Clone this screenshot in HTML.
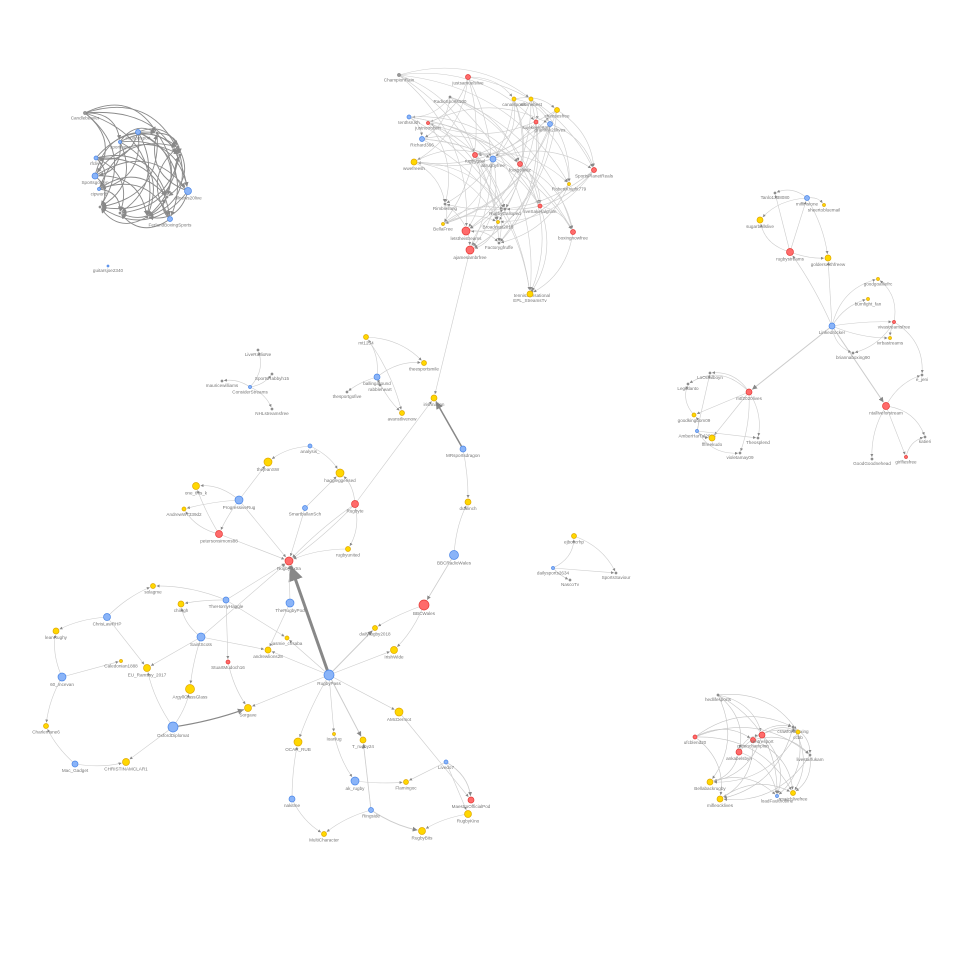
<!DOCTYPE html>
<html><head><meta charset="utf-8"><style>
html,body{margin:0;padding:0;background:#fff}
svg{display:block}
text{font-family:"Liberation Sans",sans-serif;font-size:4.6px;fill:#777}
</style></head><body>
<svg id="g" width="966" height="966" viewBox="0 0 966 966" xmlns="http://www.w3.org/2000/svg">
<defs><marker id="ar" viewBox="0 0 10 10" refX="10" refY="5" markerWidth="5" markerHeight="5" orient="auto"><path d="M0,0L10,5L0,10z" fill="#888"/></marker></defs>
<g id="edges"></g>
<g id="nodes"></g>
</svg>
<script>
// node: [label, x, y, radius, colour(b/y/r/g)]
const nodes = [
["analysis_",310,446,2,"b"],["thejeanSW",268,462,4,"y"],["haggleggerised",340,473,4,"y"],["one_this_k",196,486,3.5,"y"],
["ProgressiveRug",239,500,4,"b"],["AndrewW7339d2",184,509,2,"y"],["SmartballanSch",305,508,2.5,"b"],["Rugbyte",355,504,3.5,"r"],
["petersonsimons88",219,534,3.5,"r"],["rugbyunited",348,549,2.5,"y"],["RugbyBxtra",289,561,4,"r"],["ChrisLawRHP",107,617,3.5,"b"],
["solagme",153,586,2.5,"y"],["TheHornyHaggle",226,600,3,"b"],["chilagh",181,604,3,"y"],["TheRugbyPod",290,603,4,"b"],
["leanRughy",56,631,3,"y"],["SaintScots",201,637,4,"b"],["jasmie_chsaba",287,638,2,"y"],["andrewlions28",268,650,3,"y"],
["StuartMudoch16",228,662,2,"r"],["Caledonian1888",121,661,1.5,"y"],["EU_Ramsay_2017",147,668,3.5,"y"],["60_mcevan",62,677,4,"b"],
["ArgyllGlassGlass",190,689,4.5,"y"],["RugbyPass",329,675,5,"b"],["OxfordDiplomat",173,727,5,"b"],["Sorgave",248,708,3.5,"y"],
["Charlemane6",46,726,2.5,"y"],["CHRISTINAMCLAR1",126,762,3.5,"y"],["Mac_Gadget",75,764,3,"b"],["OCAR_RUB",298,742,4,"y"],
["Ioanlug",334,734,1.5,"y"],["T_rugby24",363,740,3,"y"],["AMcDermot",399,712,4,"y"],["ak_rugby",355,781,4,"b"],
["Flamingoc",406,782,2.5,"y"],["Livedo7",446,762,2,"b"],["MaestroOfficialPod",471,800,3,"r"],["RugbyKino",468,814,3.5,"y"],
["nakitme",292,799,3,"b"],["Ringside",371,810,2.5,"b"],["MultiCharacter",324,834,2.5,"y"],["RugbyBits",422,831,3.5,"y"],
["MRsportsdragon",463,449,3,"b"],["dualinch",468,502,3,"y"],["BBCRadioWales",454,555,4.5,"b"],["BBCWales",424,605,5,"r"],
["dailyrugby2018",375,628,2.5,"y"],["IrishWide",394,650,3.5,"y"],
["mt1234",366,337,2.5,"y"],["ballingaround",377,377,3,"b"],["theesportsmile",424,363,2.5,"y"],["avanstlivenow",402,413,2.5,"y"],
["irishnation",434,398,3,"y"],["thesportgofive",347,392,1,"g"],["rabbleheart",380,385,1,"g"],
["LiveRadioNe",258,350,1,"g"],["SportsRabbyh15",272,374,1,"g"],["mauricewilliams",222,381,1,"g"],["ConsiderStreams",250,387,1.5,"b"],["NHLstreamsfree",272,409,1,"g"],
["ejboxcrhp",574,536,2.5,"y"],["dailysports2634",553,568,1.5,"b"],["SportsSaviour",616,573,1,"g"],["NascoTv",570,580,1,"g"],
["ChampionRain",399,75,1.5,"g"],["justsamuelslive",468,77,2.5,"r"],["RadioSports100",450,97,1,"g"],["canalsports",514,99,2,"y"],
["alltimebest",531,99,2,"y"],["cheesesfree",557,110,2.5,"y"],["tenthsrush",409,117,2,"b"],["justnotrobert",428,123,1.5,"r"],
["sujekeelerton",536,122,2,"r"],["grammy20lives",550,124,2.5,"b"],["Richard366",422,139,2.5,"b"],["wwefreesh",414,162,3,"y"],
["rugbygoal",475,155,2.5,"r"],["allrugbyfree",493,159,3,"b"],["footgolivez",520,164,2.5,"r"],["SportsPlanetReals",594,170,2.5,"r"],
["RobertKnight779",569,184,1.5,"y"],["Rimblesong",445,204,1,"g"],["liveSakeralgram",540,206,2,"r"],["BellaFree",443,224,1.5,"y"],
["letstheistreams",466,231,4,"r"],["Broadcast2018",498,222,1.5,"y"],["boxingnowfree",573,232,2.5,"r"],["ajamesambrfree",470,250,4,"r"],
["Factorygfruffe",499,243,1,"g"],["RugbyGalloped",505,209,1,"g"],["tennisSensational",532,291,1,"g"],["EPL_StreamsTv",530,294,3,"y"],
["Candlebeaver",85,113,1.5,"g"],["cooltopsport",138,132,2.5,"b"],["sportingtv",120,142,1.5,"b"],["rfclive",96,158,2,"b"],
["Sportsgolden",95,176,3,"b"],["cipworld",99,189,1.5,"b"],["allnews20live",188,191,3.5,"b"],["FerlandBoxingSports",170,219,2.5,"b"],
["guitarsjoe2340",108,266,1,"b"],["h1",157,133,1,"g"],["h2",178,147,1,"g"],["h3",180,155,1,"g"],["h4",167,197,1,"g"],["h5",147,217,1,"g"],["h6",120,213,1,"g"],["h7",100,207,1,"g"],
["Tanlo1338080",775,193,1,"g"],["miffinstone",807,198,2.5,"b"],["sheertobluemail",824,205,1.5,"y"],["sugarballslive",760,220,3,"y"],
["rugbystreams",790,252,3.5,"r"],["golderswithfreew",828,258,3,"y"],["goodgoalliefrc",878,279,1.5,"y"],["bumfight_fan",868,299,1.5,"y"],
["Linkedrocker",832,326,3,"b"],["vivastreamsfree",894,322,1.5,"r"],["ivrbastreams",890,338,1.5,"y"],["briannaboxing90",853,353,1,"g"],
["mtf2020lives",749,392,3,"r"],["ntalliveforstream",886,406,3.5,"r"],["LoOctalboyn",710,373,1,"g"],["Legittlanto",688,384,1,"g"],
["goodkingdom09",694,415,2,"y"],["AmberHarTal2088",697,431,1.5,"b"],["fffreekudo",712,438,3,"y"],["Theosplend",758,438,1,"g"],
["violetamay09",740,453,1,"g"],["GoodGoodnehead",872,459,1,"g"],["girlfiesfree",906,457,1.5,"r"],["e_jeni",922,375,1,"g"],["katieri",925,437,1,"g"],
["hedlifesports",718,695,1,"g"],["ufcblend20",695,737,2,"r"],["ankabelsbyn",739,752,3,"r"],["greenchampion",753,740,2.5,"r"],
["centresport",762,735,3,"r"],["crawfordboxing",793,727,1,"g"],["ccbb",798,732,2,"y"],["livestarfukam",810,755,1,"g"],
["Bellabackrugby",710,782,3,"y"],["mifleocklives",720,799,3,"y"],["loadFaulthotline",777,796,1.5,"b"],["rmatchlivefree",793,793,2.5,"y"]
];
// edges: [from, to, curvature, width]
const edges = [
["analysis_","thejeanSW",0.15,0.6],["analysis_","haggleggerised",-0.15,0.6],["ProgressiveRug","thejeanSW",0,0.6],["ProgressiveRug","one_this_k",0.2,0.6],
["ProgressiveRug","AndrewW7339d2",0.05,0.6],["ProgressiveRug","petersonsimons88",0.05,0.6],["ProgressiveRug","RugbyBxtra",0,0.6],["petersonsimons88","one_this_k",-0.05,0.6],
["petersonsimons88","AndrewW7339d2",-0.2,0.6],["petersonsimons88","RugbyBxtra",0,0.6],["SmartballanSch","haggleggerised",0,0.6],["SmartballanSch","RugbyBxtra",0,0.6],
["Rugbyte","haggleggerised",0.2,0.6],["Rugbyte","rugbyunited",-0.2,0.6],["Rugbyte","RugbyBxtra",0.05,0.6],["Rugbyte","RugbyBxtra",-0.05,0.6],
["rugbyunited","RugbyBxtra",0.1,0.6],["Rugbyte","irishnation",0,0.6],["RugbyPass","RugbyBxtra",0,3],["TheRugbyPod","RugbyBxtra",0,0.6],
["TheHornyHaggle","RugbyBxtra",0,0.6],["TheHornyHaggle","solagme",0.1,0.6],["TheHornyHaggle","chilagh",0.05,0.6],["TheHornyHaggle","jasmie_chsaba",0,0.6],
["TheHornyHaggle","StuartMudoch16",0,0.6],["SaintScots","RugbyBxtra",0,0.6],["SaintScots","chilagh",-0.2,0.6],["SaintScots","andrewlions28",0,0.6],
["SaintScots","EU_Ramsay_2017",0,0.6],["SaintScots","ArgyllGlassGlass",0.05,0.6],["ChrisLawRHP","solagme",-0.1,0.6],["ChrisLawRHP","leanRughy",0.1,0.6],
["ChrisLawRHP","EU_Ramsay_2017",0,0.6],["60_mcevan","Caledonian1888",0,0.6],["60_mcevan","leanRughy",-0.15,0.6],["60_mcevan","Charlemane6",0.1,0.6],
["Mac_Gadget","Charlemane6",-0.1,0.6],["Mac_Gadget","CHRISTINAMCLAR1",0.1,0.6],["OxfordDiplomat","CHRISTINAMCLAR1",0,0.6],["OxfordDiplomat","EU_Ramsay_2017",-0.1,0.6],
["OxfordDiplomat","ArgyllGlassGlass",0.1,0.6],["OxfordDiplomat","Sorgave",0.05,1.2],["StuartMudoch16","Sorgave",0.1,0.6],["RugbyPass","Sorgave",0,0.6],
["RugbyPass","andrewlions28",0,0.6],["TheRugbyPod","andrewlions28",0,0.6],["RugbyPass","jasmie_chsaba",0,0.6],["RugbyPass","dailyrugby2018",0,1],
["RugbyPass","IrishWide",0,0.6],["RugbyPass","AMcDermot",0,0.6],["RugbyPass","OCAR_RUB",0.05,0.6],["RugbyPass","Ioanlug",0,0.6],
["RugbyPass","T_rugby24",0,1],["Ioanlug","ak_rugby",0.1,0.6],["ak_rugby","Flamingoc",0.05,0.6],["Livedo7","Flamingoc",0,0.6],
["Livedo7","MaestroOfficialPod",-0.25,0.8],["Livedo7","RugbyKino",0,0.6],["AMcDermot","MaestroOfficialPod",0,0.6],["Ringside","T_rugby24",0,0.8],
["Ringside","RugbyBits",0.1,1],["RugbyKino","RugbyBits",0.1,0.6],["nakitme","OCAR_RUB",-0.05,0.6],["nakitme","MultiCharacter",0.15,0.6],
["Ringside","MultiCharacter",0.1,0.6],["MRsportsdragon","dualinch",-0.05,0.6],["BBCRadioWales","dualinch",-0.1,0.6],["BBCRadioWales","BBCWales",0,0.8],
["BBCWales","dailyrugby2018",0.05,0.6],["BBCWales","IrishWide",-0.1,0.6],["MRsportsdragon","irishnation",0,1.5],["ajamesambrfree","irishnation",0,0.6],
["ballingaround","mt1234",0.2,0.6],["ballingaround","theesportsmile",-0.2,0.6],["ballingaround","avanstlivenow",0.1,0.6],["mt1234","avanstlivenow",-0.1,0.6],
["ballingaround","thesportgofive",0.1,0.6],["ballingaround","rabbleheart",0,0.6],["mt1234","theesportsmile",-0.2,0.6],
["ConsiderStreams","LiveRadioNe",0.3,0.6],["ConsiderStreams","SportsRabbyh15",0.2,0.6],["ConsiderStreams","mauricewilliams",0.2,0.6],["ConsiderStreams","NHLstreamsfree",-0.2,0.6],
["dailysports2634","ejboxcrhp",0.3,0.6],["dailysports2634","SportsSaviour",0,0.6],["dailysports2634","NascoTv",0.1,0.6],["ejboxcrhp","SportsSaviour",-0.2,0.6],
["Linkedrocker","mtf2020lives",0,1],["Linkedrocker","ntalliveforstream",0,1],["Linkedrocker","rugbystreams",0.05,0.6],["Linkedrocker","golderswithfreew",0,0.6],
["Linkedrocker","goodgoalliefrc",-0.3,0.6],["Linkedrocker","bumfight_fan",-0.2,0.6],["Linkedrocker","vivastreamsfree",-0.05,0.6],["Linkedrocker","ivrbastreams",0.1,0.6],
["Linkedrocker","briannaboxing90",0.3,0.6],["vivastreamsfree","briannaboxing90",-0.2,0.6],["vivastreamsfree","goodgoalliefrc",0.3,0.6],["vivastreamsfree","ivrbastreams",0.1,0.6],
["rugbystreams","golderswithfreew",0.1,0.6],["rugbystreams","sugarballslive",-0.3,0.6],["rugbystreams","Tanlo1338080",0,0.6],["rugbystreams","miffinstone",0,0.6],
["miffinstone","Tanlo1338080",0.3,0.6],["miffinstone","sugarballslive",0.2,0.6],["miffinstone","sheertobluemail",-0.3,0.6],["miffinstone","golderswithfreew",-0.1,0.6],
["mtf2020lives","LoOctalboyn",0.3,0.6],["mtf2020lives","Legittlanto",0.4,0.6],["mtf2020lives","goodkingdom09",0,0.6],["mtf2020lives","fffreekudo",0,0.6],
["mtf2020lives","Theosplend",-0.2,0.6],["mtf2020lives","violetamay09",-0.1,0.6],["AmberHarTal2088","LoOctalboyn",0,0.6],["AmberHarTal2088","fffreekudo",0.2,0.6],
["AmberHarTal2088","Theosplend",0,0.6],["AmberHarTal2088","violetamay09",0.3,0.6],["goodkingdom09","Legittlanto",-0.3,0.6],["AmberHarTal2088","goodkingdom09",0.3,0.6],
["ntalliveforstream","GoodGoodnehead",0.15,0.6],["ntalliveforstream","girlfiesfree",0,0.6],["ntalliveforstream","e_jeni",-0.2,0.6],["vivastreamsfree","e_jeni",-0.3,0.6],
["girlfiesfree","katieri",-0.3,0.6],["ntalliveforstream","katieri",-0.3,0.6]
];
// dense clusters
const clusterTop = ["ChampionRain","justsamuelslive","RadioSports100","canalsports","alltimebest","cheesesfree","tenthsrush","justnotrobert","sujekeelerton","grammy20lives","Richard366","wwefreesh","rugbygoal","allrugbyfree","footgolivez","SportsPlanetReals","RobertKnight779","Rimblesong","liveSakeralgram","BellaFree","letstheistreams","Broadcast2018","boxingnowfree","ajamesambrfree","Factorygfruffe","RugbyGalloped","EPL_StreamsTv"];
const clusterTL = ["Candlebeaver","cooltopsport","sportingtv","rfclive","Sportsgolden","cipworld","allnews20live","FerlandBoxingSports","h1","h2","h3","h4","h5","h6","h7"];
const clusterBR = ["hedlifesports","ufcblend20","ankabelsbyn","greenchampion","centresport","crawfordboxing","ccbb","livestarfukam","Bellabackrugby","mifleocklives","loadFaulthotline","rmatchlivefree"];

const col = {b:["#8ab4f8","#4a86e8"],y:["#ffd700","#e0a800"],r:["#ff6b6b","#e53935"],g:["#999","#888"]};
const NS="http://www.w3.org/2000/svg";
const byName={}; nodes.forEach(n=>byName[n[0]]=n);
const eg=document.getElementById('edges'), ng=document.getElementById('nodes');
function edge(a,b,c,w,stroke){
  const A=byName[a],B=byName[b]; if(!A||!B)return;
  const dx=B[1]-A[1],dy=B[2]-A[2];
  const mx=(A[1]+B[1])/2-dy*c,my=(A[2]+B[2])/2+dx*c;
  const d2=Math.hypot(B[1]-mx,B[2]-my)||1;
  const ex=B[1]-(B[1]-mx)/d2*(B[3]+1), ey=B[2]-(B[2]-my)/d2*(B[3]+1);
  const p=document.createElementNS(NS,'path');
  
  
  p.setAttribute('d',`M${A[1]},${A[2]}Q${mx},${my} ${ex},${ey}`);
  p.setAttribute('fill','none');
  p.setAttribute('stroke',stroke||(w>1?'#888':'#ccc'));
  p.setAttribute('stroke-width',w);
  p.setAttribute('marker-end','url(#ar)');
  eg.appendChild(p);
}
edges.forEach(e=>edge(e[0],e[1],e[2],e[3]));
function cluster(list,step,curv,w,stroke){
  for(let i=0;i<list.length;i++)for(let j=i+1;j<list.length;j++){
    if((i*7+j*3)%step!==0)continue;
    edge(list[i],list[j],((i+j)%2?curv:-curv),w,stroke);
  }
}
cluster(clusterTop,4,0.25,0.6,'#cccccc');
cluster(clusterTL,2,0.45,0.9,'#8a8a8a');
cluster(clusterBR,2,0.3,0.6,'#c4c4c4');
nodes.forEach(n=>{
  const g=document.createElementNS(NS,'g');
  
  
  const c=document.createElementNS(NS,'circle');
  c.setAttribute('cx',n[1]);c.setAttribute('cy',n[2]);c.setAttribute('r',n[3]);
  c.setAttribute('fill',col[n[4]][0]);c.setAttribute('stroke',col[n[4]][1]);c.setAttribute('stroke-width',0.7);
  g.appendChild(c);
  if(!/^h\d$/.test(n[0])){
    const t=document.createElementNS(NS,'text');
    t.setAttribute('x',n[1]);t.setAttribute('y',n[2]+n[3]+5);t.setAttribute('text-anchor','middle');
    t.textContent=n[0];
    g.appendChild(t);
  }
  ng.appendChild(g);
});
</script>
</body></html>
